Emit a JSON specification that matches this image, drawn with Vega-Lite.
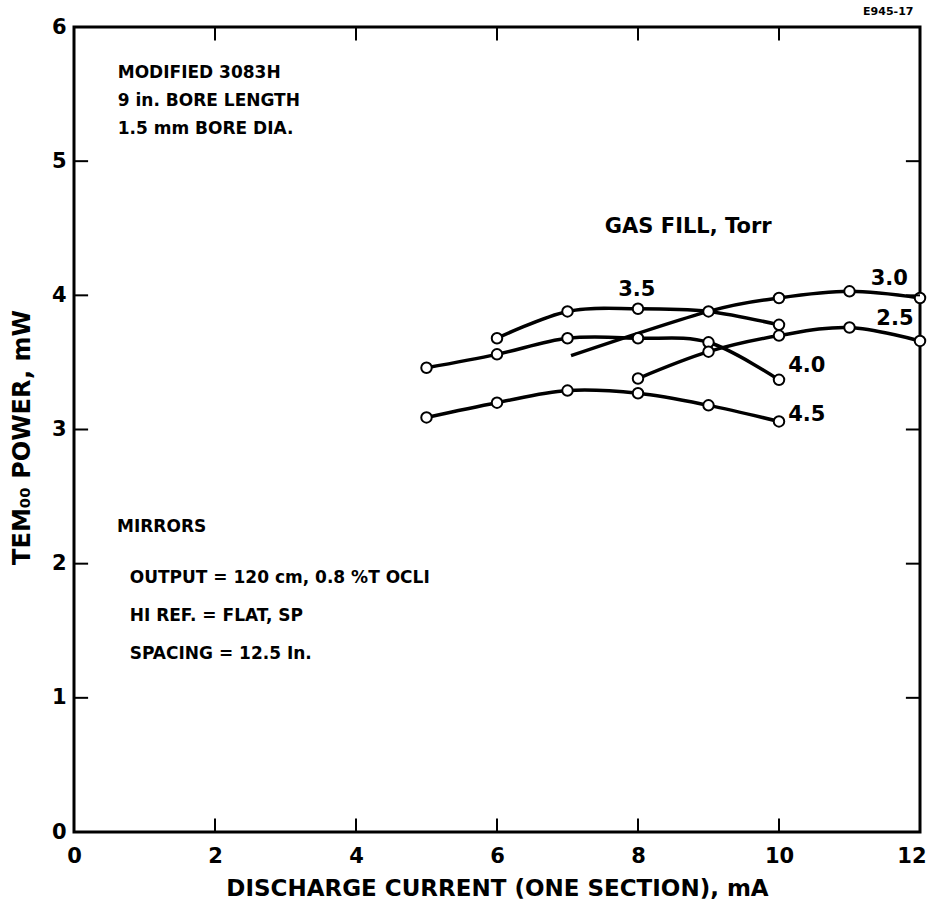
{
  "$schema": "https://vega.github.io/schema/vega-lite/v6.json",
  "width": 846,
  "height": 805,
  "autosize": "none",
  "padding": {"left": 74, "top": 27, "right": 8, "bottom": 89},
  "background": "white",
  "config": {
    "view": {"stroke": "black", "strokeWidth": 3},
    "font": "DejaVu Sans",
    "axis": {"grid": false, "domain": false, "ticks": false, "labelColor": "black", "titleColor": "black", "labelFont": "DejaVu Sans", "titleFont": "DejaVu Sans"}
  },
  "datasets": {
    "curves": [
      {"s": "4.5", "x": 5, "y": 3.09, "m": true},
      {"s": "4.5", "x": 6, "y": 3.20, "m": true},
      {"s": "4.5", "x": 7, "y": 3.29, "m": true},
      {"s": "4.5", "x": 8, "y": 3.27, "m": true},
      {"s": "4.5", "x": 9, "y": 3.18, "m": true},
      {"s": "4.5", "x": 10, "y": 3.06, "m": true},
      {"s": "4.0", "x": 5, "y": 3.46, "m": true},
      {"s": "4.0", "x": 6, "y": 3.56, "m": true},
      {"s": "4.0", "x": 7, "y": 3.68, "m": true},
      {"s": "4.0", "x": 8, "y": 3.68, "m": true},
      {"s": "4.0", "x": 9, "y": 3.65, "m": true},
      {"s": "4.0", "x": 10, "y": 3.37, "m": true},
      {"s": "3.5", "x": 6, "y": 3.68, "m": true},
      {"s": "3.5", "x": 7, "y": 3.88, "m": true},
      {"s": "3.5", "x": 8, "y": 3.90, "m": true},
      {"s": "3.5", "x": 9, "y": 3.88, "m": true},
      {"s": "3.5", "x": 10, "y": 3.78, "m": true},
      {"s": "3.0", "x": 7.05, "y": 3.55, "m": false},
      {"s": "3.0", "x": 9, "y": 3.88, "m": false},
      {"s": "3.0", "x": 10, "y": 3.98, "m": true},
      {"s": "3.0", "x": 11, "y": 4.03, "m": true},
      {"s": "3.0", "x": 12, "y": 3.98, "m": true},
      {"s": "2.5", "x": 8, "y": 3.38, "m": true},
      {"s": "2.5", "x": 9, "y": 3.58, "m": true},
      {"s": "2.5", "x": 10, "y": 3.70, "m": true},
      {"s": "2.5", "x": 11, "y": 3.76, "m": true},
      {"s": "2.5", "x": 12, "y": 3.66, "m": true}
    ],
    "leftNotes": [
      {"t": "MODIFIED 3083H", "x": 0.62, "y": 5.66},
      {"t": "9 in. BORE LENGTH", "x": 0.62, "y": 5.45},
      {"t": "1.5 mm BORE DIA.", "x": 0.62, "y": 5.24},
      {"t": "MIRRORS", "x": 0.61, "y": 2.27},
      {"t": "OUTPUT = 120 cm, 0.8 %T  OCLI", "x": 0.79, "y": 1.89},
      {"t": "HI REF. = FLAT, SP", "x": 0.79, "y": 1.61},
      {"t": "SPACING = 12.5 In.", "x": 0.79, "y": 1.33}
    ],
    "bigNotes": [
      {"t": "GAS FILL, Torr", "x": 7.53, "y": 4.51},
      {"t": "4.0", "x": 10.13, "y": 3.47},
      {"t": "4.5", "x": 10.13, "y": 3.11},
      {"t": "3.5", "x": 7.72, "y": 4.04},
      {"t": "3.0", "x": 11.3, "y": 4.12},
      {"t": "2.5", "x": 11.38, "y": 3.82}
    ],
    "code": [
      {"t": "E945-17", "x": 11.55, "y": 6.11}
    ],
    "xticks": [{"v": 2}, {"v": 4}, {"v": 6}, {"v": 8}, {"v": 10}],
    "yticks": [{"v": 1}, {"v": 2}, {"v": 3}, {"v": 4}, {"v": 5}]
  },
  "layer": [
    {
      "data": {"name": "curves"},
      "mark": {"type": "line", "color": "black", "strokeWidth": 3.5, "interpolate": "cardinal"},
      "encoding": {
        "x": {"field": "x", "type": "quantitative", "scale": {"domain": [0, 12], "nice": false},
          "axis": {"values": [0, 2, 4, 6, 8, 10, 12], "format": "d", "labelFontSize": 21, "labelFontWeight": "bold", "labelPadding": 13, "labelFlush": false,
            "labelAlign": {"expr": "datum.value == 12 ? 'right' : 'center'"},
            "labelOffset": {"expr": "datum.value == 12 ? 6 : 0"},
            "title": "DISCHARGE CURRENT (ONE SECTION), mA", "titleFontSize": 23, "titleFontWeight": "bold", "titleY": 45, "titleBaseline": "top"}},
        "y": {"field": "y", "type": "quantitative", "scale": {"domain": [0, 6], "nice": false},
          "axis": {"values": [0, 1, 2, 3, 4, 5, 6], "format": "d", "labelFontSize": 21, "labelFontWeight": "bold", "labelPadding": 8, "labelFlush": false,
            "title": "TEM₀₀  POWER, mW", "titleFontSize": 24, "titleFontWeight": "bold", "titleX": -52, "titleY": 410, "titleAngle": -90, "titleAlign": "center", "titleBaseline": "middle"}},
        "detail": {"field": "s"}
      }
    },
    {
      "data": {"name": "curves"},
      "transform": [{"filter": "datum.m"}],
      "mark": {"type": "point", "shape": "circle", "filled": true, "fill": "white", "stroke": "black", "strokeWidth": 2, "size": 110, "opacity": 1},
      "encoding": {
        "x": {"field": "x", "type": "quantitative"},
        "y": {"field": "y", "type": "quantitative"}
      }
    },
    {
      "data": {"name": "xticks"},
      "mark": {"type": "rule", "color": "black", "strokeWidth": 2},
      "encoding": {"x": {"field": "v", "type": "quantitative"}, "y": {"datum": 6}, "y2": {"datum": 5.9}}
    },
    {
      "data": {"name": "xticks"},
      "mark": {"type": "rule", "color": "black", "strokeWidth": 2},
      "encoding": {"x": {"field": "v", "type": "quantitative"}, "y": {"datum": 0}, "y2": {"datum": 0.1}}
    },
    {
      "data": {"name": "yticks"},
      "mark": {"type": "rule", "color": "black", "strokeWidth": 2},
      "encoding": {"y": {"field": "v", "type": "quantitative"}, "x": {"datum": 12}, "x2": {"datum": 11.8}}
    },
    {
      "data": {"name": "yticks"},
      "mark": {"type": "rule", "color": "black", "strokeWidth": 2},
      "encoding": {"y": {"field": "v", "type": "quantitative"}, "x": {"datum": 0}, "x2": {"datum": 0.2}}
    },
    {
      "data": {"name": "leftNotes"},
      "mark": {"type": "text", "align": "left", "baseline": "middle", "fontSize": 17, "fontWeight": "bold", "color": "black"},
      "encoding": {
        "x": {"field": "x", "type": "quantitative"},
        "y": {"field": "y", "type": "quantitative"},
        "text": {"field": "t"}
      }
    },
    {
      "data": {"name": "bigNotes"},
      "mark": {"type": "text", "align": "left", "baseline": "middle", "fontSize": 21, "fontWeight": "bold", "color": "black"},
      "encoding": {
        "x": {"field": "x", "type": "quantitative"},
        "y": {"field": "y", "type": "quantitative"},
        "text": {"field": "t"}
      }
    },
    {
      "data": {"name": "code"},
      "mark": {"type": "text", "align": "center", "baseline": "middle", "fontSize": 11, "fontWeight": "bold", "color": "black"},
      "encoding": {
        "x": {"field": "x", "type": "quantitative"},
        "y": {"field": "y", "type": "quantitative"},
        "text": {"field": "t"}
      }
    }
  ]
}
